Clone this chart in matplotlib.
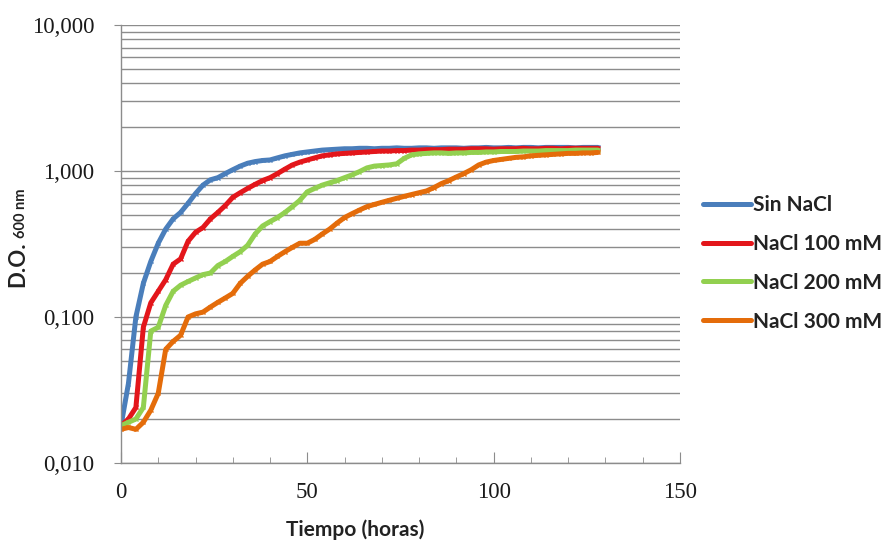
import numpy as np
import matplotlib.pyplot as plt
from matplotlib.ticker import FixedLocator, LogLocator, NullFormatter, MultipleLocator

# time in hours (one reading every 2 h)
tiempo = np.arange(0, 130, 2)

sin_nacl = [0.018, 0.035, 0.10, 0.17, 0.24, 0.32, 0.40, 0.47, 0.52, 0.60,
            0.70, 0.80, 0.87, 0.90, 0.96, 1.02, 1.08, 1.13, 1.16, 1.18,
            1.19, 1.23, 1.27, 1.30, 1.33, 1.35, 1.37, 1.39, 1.40, 1.41,
            1.42, 1.42, 1.43, 1.43, 1.42, 1.43, 1.43, 1.44, 1.43, 1.43,
            1.44, 1.44, 1.43, 1.44, 1.44, 1.44, 1.43, 1.44, 1.44, 1.45,
            1.44, 1.44, 1.45, 1.44, 1.45, 1.45, 1.44, 1.45, 1.45, 1.45,
            1.45, 1.44, 1.45, 1.45, 1.45]

nacl_100 = [0.018, 0.020, 0.024, 0.085, 0.125, 0.15, 0.18, 0.23, 0.25, 0.33,
            0.38, 0.41, 0.47, 0.52, 0.58, 0.66, 0.71, 0.76, 0.81, 0.86,
            0.90, 0.96, 1.03, 1.10, 1.15, 1.19, 1.23, 1.27, 1.29, 1.31,
            1.32, 1.33, 1.34, 1.35, 1.36, 1.37, 1.37, 1.38, 1.38, 1.39,
            1.39, 1.40, 1.40, 1.40, 1.41, 1.41, 1.41, 1.42, 1.42, 1.42,
            1.41, 1.42, 1.42, 1.42, 1.43, 1.42, 1.42, 1.43, 1.43, 1.42,
            1.43, 1.43, 1.43, 1.43, 1.43]

nacl_200 = [0.018, 0.019, 0.020, 0.024, 0.080, 0.085, 0.12, 0.15, 0.165, 0.175,
            0.185, 0.195, 0.20, 0.225, 0.24, 0.26, 0.28, 0.31, 0.37, 0.42,
            0.45, 0.48, 0.52, 0.57, 0.63, 0.72, 0.76, 0.80, 0.83, 0.86,
            0.90, 0.94, 0.99, 1.05, 1.08, 1.09, 1.10, 1.12, 1.22, 1.29,
            1.31, 1.32, 1.33, 1.33, 1.32, 1.33, 1.33, 1.34, 1.34, 1.35,
            1.35, 1.36, 1.36, 1.36, 1.37, 1.37, 1.37, 1.38, 1.38, 1.38,
            1.38, 1.39, 1.39, 1.39, 1.39]

nacl_300 = [0.017, 0.0175, 0.017, 0.019, 0.023, 0.030, 0.060, 0.068, 0.075, 0.100,
            0.105, 0.108, 0.117, 0.126, 0.135, 0.145, 0.17, 0.19, 0.21, 0.23,
            0.24, 0.26, 0.28, 0.30, 0.32, 0.32, 0.34, 0.37, 0.40, 0.44,
            0.48, 0.51, 0.54, 0.57, 0.59, 0.61, 0.63, 0.65, 0.67, 0.69,
            0.71, 0.73, 0.77, 0.82, 0.86, 0.91, 0.96, 1.02, 1.10, 1.15,
            1.18, 1.20, 1.22, 1.24, 1.25, 1.27, 1.28, 1.29, 1.30, 1.31,
            1.32, 1.32, 1.33, 1.33, 1.34]

series = [("Sin NaCl", sin_nacl, "#4a7ebb"),
          ("NaCl 100 mM", nacl_100, "#e3161b"),
          ("NaCl 200 mM", nacl_200, "#92d050"),
          ("NaCl 300 mM", nacl_300, "#e46c0a")]

y_ticks = [0.01, 0.1, 1, 10]
y_labels = ["0,010", "0,100", "1,000", "10,000"]
x_ticks = [0, 50, 100, 150]

fig = plt.figure(figsize=(8.85, 5.42), dpi=100)
ax = fig.add_axes([0.1367, 0.1458, 0.6316, 0.8081])

for name, vals, col in series:
    ax.plot(tiempo, vals, color=col, lw=3.6, marker='x', ms=3.5, mew=1.0,
            label=name, solid_capstyle='round')

ax.set_yscale('log')
ax.set_ylim(0.01, 10)
ax.set_xlim(0, 150)

ax.yaxis.set_major_locator(FixedLocator(y_ticks))
ax.set_yticklabels(y_labels)
ax.yaxis.set_minor_locator(LogLocator(base=10, subs=np.arange(2, 10)))
ax.yaxis.set_minor_formatter(NullFormatter())
ax.set_xticks(x_ticks)
ax.xaxis.set_minor_locator(MultipleLocator(10))

ax.grid(True, which='both', axis='y', color='#8c8c8c', lw=1.0)
ax.set_axisbelow(True)

for s in ['top', 'right']:
    ax.spines[s].set_visible(False)
for s in ['left', 'bottom']:
    ax.spines[s].set_color('#8c8c8c')
    ax.spines[s].set_linewidth(1.0)

ax.tick_params(axis='y', which='major', direction='out', length=5, color='#8c8c8c', pad=14)
ax.tick_params(axis='y', which='minor', length=0)
ax.tick_params(axis='x', which='major', direction='in', length=8, color='#8c8c8c', pad=14)
ax.tick_params(axis='x', which='minor', direction='in', length=4, color='#8c8c8c')
for lab in ax.get_xticklabels() + ax.get_yticklabels():
    lab.set_fontfamily('Liberation Serif')
    lab.set_fontsize(16.5)
    lab.set_color('#1a1a1a')

fig.text(355 / 885, 1 - 530 / 542, "Tiempo (horas)", ha='center', va='center',
         family='Lato', weight='bold', fontsize=15, color='#222222')
fig.text(18 / 885, 1 - 264 / 542, "D.O.", rotation=90, ha='center', va='center',
         family='Lato', weight='bold', fontsize=16, color='#222222')
fig.text(21 / 885, 1 - 213 / 542, "600 nm", rotation=90, ha='center', va='center',
         family='Lato', weight='bold', fontsize=10.5, color='#222222')

leg = ax.legend(loc='center left', bbox_to_anchor=(0.794, 0.514),
                bbox_transform=fig.transFigure, frameon=False, borderpad=0,
                borderaxespad=0, handlelength=2.3, handletextpad=0.1,
                labelspacing=0.9, prop=dict(family='Lato', weight='bold', size=15))
for t in leg.get_texts():
    t.set_color('#222222')

fig.savefig('out.png', dpi=100)
